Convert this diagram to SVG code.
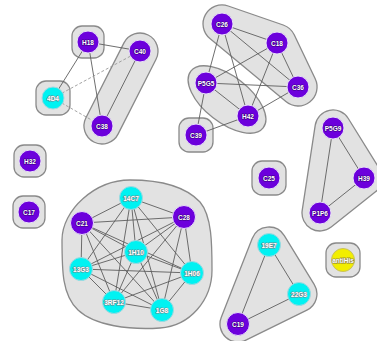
<svg xmlns="http://www.w3.org/2000/svg" width="377" height="341" viewBox="0 0 377 341">
  <style>
    .grp { fill: #e2e2e2; stroke: #8a8a8a; stroke-width: 1.3; }
    .edge { stroke: #5e5e5e; stroke-width: 0.9; fill: none; }
    .dash { stroke: #9a9a9a; stroke-width: 0.9; stroke-dasharray: 3 2; fill: none; }
    .p { fill: #6c00dc; stroke: #e8e0f8; stroke-width: 1; }
    .c { fill: #00f2f2; stroke: #a0d8e0; stroke-width: 1; }
    .y { fill: #f2ee00; stroke: #c8c060; stroke-width: 1; }
    text { font-family: "Liberation Sans", Arial, sans-serif; font-size: 6.5px; font-weight: bold; text-anchor: middle; dominant-baseline: central; fill: #ffffff; paint-order: stroke; stroke-linejoin: round; }
    .tp { stroke: #3a0080; stroke-width: 1.2; }
    .tc { stroke: #6a8a90; stroke-width: 1.2; }
    .ty { fill: #ffffff; stroke: #8a8040; stroke-width: 1.2; }
  </style>

  <!-- cluster outlines -->
  <g id="groups">
    <rect class="grp" x="72" y="26" width="32" height="32" rx="10"/>
    <rect class="grp" x="36" y="81" width="34" height="34" rx="10"/>
    <rect class="grp" x="-18" y="-60" width="36" height="120" rx="18" transform="translate(121,88.5) rotate(26.9)"/>
    <path class="grp" d="M228.2,6 L283.2,25 A19,19 0 0 1 294.2,34.8 L315.2,78.8 A19,19 0 0 1 285.9,101.6 L209.9,38.6 A19,19 0 0 1 228.2,6 Z"/>
    <ellipse class="grp" cx="227" cy="99.5" rx="46" ry="23" transform="rotate(38.2 227 99.5)"/>
    <rect class="grp" x="179" y="118" width="34" height="34" rx="10"/>
    <rect class="grp" x="14" y="145" width="32" height="32" rx="10"/>
    <rect class="grp" x="13" y="196" width="32" height="32" rx="10"/>
    <rect class="grp" x="252" y="161" width="34" height="34" rx="10"/>
    <path class="grp" d="M348.3,118.5 L379.3,168.5 A18,18 0 0 1 375.2,192.1 L331.2,227.1 A18,18 0 0 1 302.2,210.3 L315.2,125.3 A18,18 0 0 1 348.3,118.5 Z"/>
    <path class="grp" d="M130,180 C160,180 185,186 200,202 C212,216 212,245 212,270 C212,300 190,326 160,328 C130,330 95,326 78,310 C62,295 62,270 62,240 C62,210 95,180 130,180 Z"/>
    <path class="grp" d="M284.3,235.6 L314.3,284.6 A18,18 0 0 1 306.9,310.1 L245.9,340.1 A18,18 0 0 1 221.2,317.4 L252.2,238.4 A18,18 0 0 1 284.3,235.6 Z"/>
    <rect class="grp" x="326" y="243" width="34" height="34" rx="10"/>
  </g>

  <!-- connectors -->
  <g id="connectors">
    <line class="edge" x1="88" y1="42" x2="140" y2="51"/>
    <line class="edge" x1="88" y1="42" x2="53" y2="98"/>
    <line class="edge" x1="88" y1="42" x2="102" y2="126"/>
    <line class="edge" x1="140" y1="51" x2="102" y2="126"/>
    <line class="dash" x1="53" y1="98" x2="140" y2="51"/>
    <line class="dash" x1="53" y1="98" x2="102" y2="126"/>

    <line class="edge" x1="222" y1="24" x2="277" y2="43"/>
    <line class="edge" x1="222" y1="24" x2="298" y2="87"/>
    <line class="edge" x1="222" y1="24" x2="206" y2="83"/>
    <line class="edge" x1="222" y1="24" x2="248" y2="116"/>
    <line class="edge" x1="277" y1="43" x2="298" y2="87"/>
    <line class="edge" x1="277" y1="43" x2="206" y2="83"/>
    <line class="edge" x1="277" y1="43" x2="248" y2="116"/>
    <line class="edge" x1="298" y1="87" x2="206" y2="83"/>
    <line class="edge" x1="298" y1="87" x2="248" y2="116"/>
    <line class="edge" x1="206" y1="83" x2="248" y2="116"/>
    <line class="edge" x1="206" y1="83" x2="196" y2="135"/>
    <line class="edge" x1="248" y1="116" x2="196" y2="135"/>

    <line class="edge" x1="333" y1="128" x2="364" y2="178"/>
    <line class="edge" x1="333" y1="128" x2="320" y2="213"/>
    <line class="edge" x1="364" y1="178" x2="320" y2="213"/>

    <line class="edge" x1="269" y1="245" x2="299" y2="294"/>
    <line class="edge" x1="269" y1="245" x2="238" y2="324"/>
    <line class="edge" x1="299" y1="294" x2="238" y2="324"/>

    <!-- fully linked cluster -->
    <line class="edge" x1="131" y1="198" x2="184" y2="217"/>
    <line class="edge" x1="131" y1="198" x2="82" y2="223"/>
    <line class="edge" x1="131" y1="198" x2="136" y2="252"/>
    <line class="edge" x1="131" y1="198" x2="81" y2="269"/>
    <line class="edge" x1="131" y1="198" x2="192" y2="273"/>
    <line class="edge" x1="131" y1="198" x2="114" y2="302"/>
    <line class="edge" x1="131" y1="198" x2="162" y2="310"/>
    <line class="edge" x1="184" y1="217" x2="82" y2="223"/>
    <line class="edge" x1="184" y1="217" x2="136" y2="252"/>
    <line class="edge" x1="184" y1="217" x2="81" y2="269"/>
    <line class="edge" x1="184" y1="217" x2="192" y2="273"/>
    <line class="edge" x1="184" y1="217" x2="114" y2="302"/>
    <line class="edge" x1="184" y1="217" x2="162" y2="310"/>
    <line class="edge" x1="82" y1="223" x2="136" y2="252"/>
    <line class="edge" x1="82" y1="223" x2="81" y2="269"/>
    <line class="edge" x1="82" y1="223" x2="192" y2="273"/>
    <line class="edge" x1="82" y1="223" x2="114" y2="302"/>
    <line class="edge" x1="82" y1="223" x2="162" y2="310"/>
    <line class="edge" x1="136" y1="252" x2="81" y2="269"/>
    <line class="edge" x1="136" y1="252" x2="192" y2="273"/>
    <line class="edge" x1="136" y1="252" x2="114" y2="302"/>
    <line class="edge" x1="136" y1="252" x2="162" y2="310"/>
    <line class="edge" x1="81" y1="269" x2="192" y2="273"/>
    <line class="edge" x1="81" y1="269" x2="114" y2="302"/>
    <line class="edge" x1="81" y1="269" x2="162" y2="310"/>
    <line class="edge" x1="192" y1="273" x2="114" y2="302"/>
    <line class="edge" x1="192" y1="273" x2="162" y2="310"/>
    <line class="edge" x1="114" y1="302" x2="162" y2="310"/>
  </g>

  <!-- nodes -->
  <g id="n-H18"><circle class="p" cx="88" cy="42" r="11"/><text class="tp" x="88" y="42">H18</text></g>
  <g id="n-C40"><circle class="p" cx="140" cy="51" r="11"/><text class="tp" x="140" y="51">C40</text></g>
  <g id="n-4D4"><circle class="c" cx="53" cy="98" r="11"/><text class="tc" x="53" y="98">4D4</text></g>
  <g id="n-C38"><circle class="p" cx="102" cy="126" r="11"/><text class="tp" x="102" y="126">C38</text></g>

  <g id="n-C26"><circle class="p" cx="222" cy="24" r="11"/><text class="tp" x="222" y="24">C26</text></g>
  <g id="n-C18"><circle class="p" cx="277" cy="43" r="11"/><text class="tp" x="277" y="43">C18</text></g>
  <g id="n-C36"><circle class="p" cx="298" cy="87" r="11"/><text class="tp" x="298" y="87">C36</text></g>
  <g id="n-P5G5"><circle class="p" cx="206" cy="83" r="11"/><text class="tp" x="206" y="83">P5G5</text></g>
  <g id="n-H42"><circle class="p" cx="248" cy="116" r="11"/><text class="tp" x="248" y="116">H42</text></g>
  <g id="n-C39"><circle class="p" cx="196" cy="135" r="11"/><text class="tp" x="196" y="135">C39</text></g>

  <g id="n-H32"><circle class="p" cx="30" cy="161" r="11"/><text class="tp" x="30" y="161">H32</text></g>
  <g id="n-C17"><circle class="p" cx="29" cy="212" r="11"/><text class="tp" x="29" y="212">C17</text></g>
  <g id="n-C25"><circle class="p" cx="269" cy="178" r="11"/><text class="tp" x="269" y="178">C25</text></g>

  <g id="n-P5G9"><circle class="p" cx="333" cy="128" r="11"/><text class="tp" x="333" y="128">P5G9</text></g>
  <g id="n-H39"><circle class="p" cx="364" cy="178" r="11"/><text class="tp" x="364" y="178">H39</text></g>
  <g id="n-P1P6"><circle class="p" cx="320" cy="213" r="11"/><text class="tp" x="320" y="213">P1P6</text></g>

  <g id="n-14C7"><circle class="c" cx="131" cy="198" r="11.5"/><text class="tc" x="131" y="198">14C7</text></g>
  <g id="n-C28"><circle class="p" cx="184" cy="217" r="11.5"/><text class="tp" x="184" y="217">C28</text></g>
  <g id="n-C21"><circle class="p" cx="82" cy="223" r="11.5"/><text class="tp" x="82" y="223">C21</text></g>
  <g id="n-1H10"><circle class="c" cx="136" cy="252" r="11.5"/><text class="tc" x="136" y="252">1H10</text></g>
  <g id="n-13G3"><circle class="c" cx="81" cy="269" r="11.5"/><text class="tc" x="81" y="269">13G3</text></g>
  <g id="n-1H06"><circle class="c" cx="192" cy="273" r="11.5"/><text class="tc" x="192" y="273">1H06</text></g>
  <g id="n-3RF12"><circle class="c" cx="114" cy="302" r="11.5"/><text class="tc" x="114" y="302">3RF12</text></g>
  <g id="n-1G8"><circle class="c" cx="162" cy="310" r="11.5"/><text class="tc" x="162" y="310">1G8</text></g>

  <g id="n-19E7"><circle class="c" cx="269" cy="245" r="11.5"/><text class="tc" x="269" y="245">19E7</text></g>
  <g id="n-22G3"><circle class="c" cx="299" cy="294" r="11.5"/><text class="tc" x="299" y="294">22G3</text></g>
  <g id="n-C19"><circle class="p" cx="238" cy="324" r="11.5"/><text class="tp" x="238" y="324">C19</text></g>

  <g id="n-antiHis"><circle class="y" cx="343" cy="260" r="11.5"/><text class="ty" x="343" y="260">antiHis</text></g>
</svg>
